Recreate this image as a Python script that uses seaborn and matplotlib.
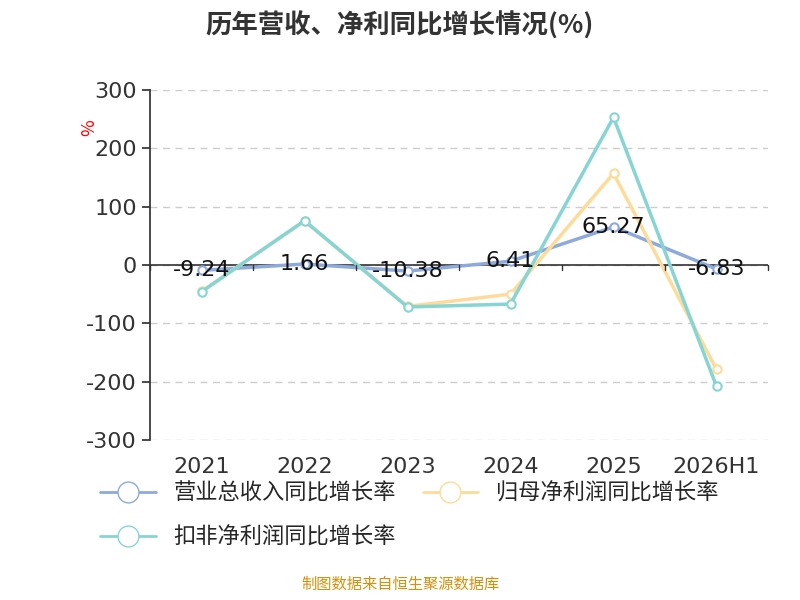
import matplotlib
matplotlib.use("Agg")
import matplotlib.pyplot as plt
import seaborn as sns
import pandas as pd
from matplotlib.lines import Line2D

years = ["2021", "2022", "2023", "2024", "2025", "2026H1"]
revenue = [-9.24, 1.66, -10.38, 6.41, 65.27, -6.83]
net_profit = [-45, 75, -71, -50, 157, -179]
deducted_profit = [-46, 76, -72, -67, 253, -208]

names = ["营业总收入同比增长率", "归母净利润同比增长率", "扣非净利润同比增长率"]
colors = ["#8eaadb", "#fddc9a", "#87d4d4"]

sns.set_theme(style="white")
plt.rcParams['font.family'] = ['Noto Sans CJK SC', 'DejaVu Sans']

rows = []
for name, vals in zip(names, [revenue, net_profit, deducted_profit]):
    for i, v in enumerate(vals):
        rows.append({"x": i, "y": v, "s": name})
df = pd.DataFrame(rows)

fig = plt.figure(figsize=(8, 6), dpi=100)
ax = fig.add_axes([0.1875, 0.2667, 0.7725, 0.5833])

sns.lineplot(data=df, x="x", y="y", hue="s", hue_order=names, palette=colors,
             linewidth=2.5, marker="o", markersize=6, markerfacecolor="white",
             markeredgewidth=1.5, legend=False, ax=ax)
for line, c in zip(ax.lines, colors):
    line.set_markeredgecolor(c)

for i, v in enumerate(revenue):
    ax.text(i, v, f"{v:.2f}", ha="center", va="center", fontsize=16, color="#111111",
            family="DejaVu Sans", zorder=5)

ax.set_xlim(-0.5, 5.5)
ax.set_ylim(-300, 300)
ax.set_yticks(range(-300, 301, 100))
ax.set_yticklabels([str(t) for t in range(-300, 301, 100)], fontsize=16, color="#333333",
                   family="DejaVu Sans")
ax.yaxis.grid(True, linestyle=(0, (5, 4)), color="#cccccc", linewidth=1)
ax.tick_params(axis="y", length=6, color="#333333", left=True)
ax.set_xticks(range(6))
ax.set_xticklabels(years, fontsize=16, color="#333333", family="DejaVu Sans")
ax.tick_params(axis="x", length=0, pad=12)
ax.set_xlabel("")
ax.set_ylabel("")
for s in ["top", "right", "bottom"]:
    ax.spines[s].set_visible(False)
ax.spines["left"].set_color("#333333")
ax.axhline(0, color="#333333", linewidth=1.2, zorder=1)
for b in [i + 0.5 for i in range(-1, 6)]:
    ax.plot([b, b], [0, -8], color="#333333", linewidth=1, clip_on=False)

fig.text(0.1, 0.78, "%", color="red", fontsize=13, rotation=90)
fig.text(0.5, 0.958, "历年营收、净利同比增长情况(%)", ha="center", va="center",
         fontsize=19, fontweight="bold", color="#333333")

handles = [Line2D([0], [0], color=c, linewidth=2, marker="o", markersize=15,
                  markerfacecolor="white", markeredgecolor=c) for c in colors]
fig.legend(handles[:2], names[:2], loc="center left", bbox_to_anchor=(0.1, 0.178),
           ncol=2, frameon=False, fontsize=16, handlelength=2.5, columnspacing=1.2)
fig.legend(handles[2:], names[2:], loc="center left", bbox_to_anchor=(0.1, 0.105),
           frameon=False, fontsize=16, handlelength=2.5)

fig.text(0.5, 0.018, "制图数据来自恒生聚源数据库", ha="center", fontsize=11, color="#d4900a")

fig.savefig("out.png", dpi=100)
